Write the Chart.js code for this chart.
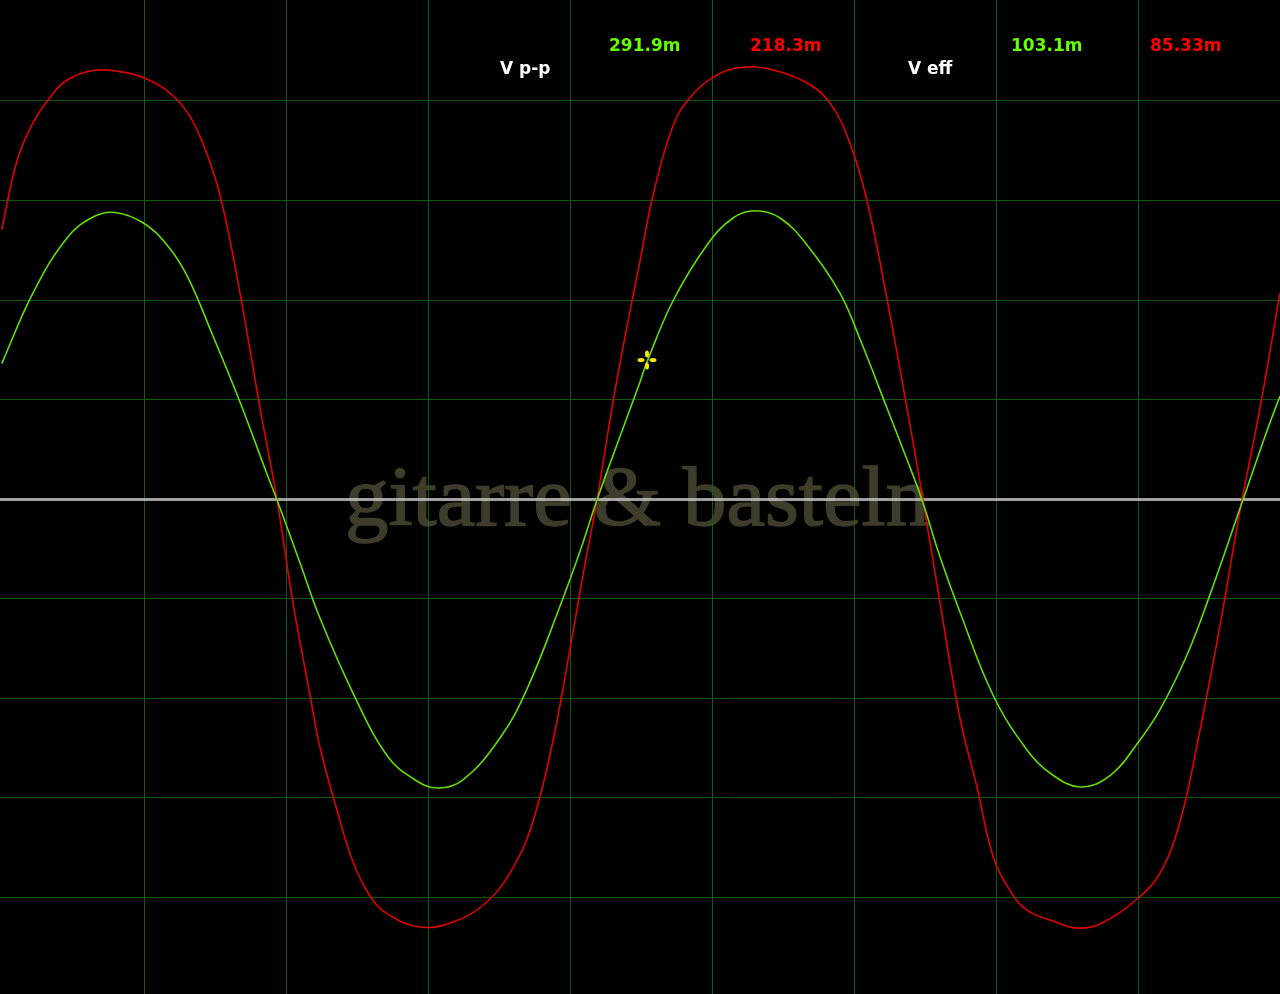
<!DOCTYPE html>
<html>
<head>
<meta charset="utf-8">
<script src="https://cdn.jsdelivr.net/npm/chart.js@4"></script>
<style>
  html, body { margin: 0; padding: 0; background: #000; }
  #wrap { width: 1280px; height: 994px; position: relative; }
</style>
</head>
<body>
<div id="wrap"><canvas id="scope"></canvas></div>
<script>
const xTicks = [0, 1, 2, 3, 4, 5, 6, 7];
const yTicks = [-4, -3, -2, -1, 0, 1, 2, 3, 4];

const greenT = [-1.002, -0.782, -0.542, -0.359, -0.204, -0.007, 0.162, 0.303, 0.486, 0.676, 0.866, 0.937,
  1.099, 1.239, 1.472, 1.711, 1.894, 2.063, 2.246, 2.507, 2.697, 2.930, 3.070, 3.190, 3.352, 3.493, 3.542,
  3.725, 3.965, 4.148, 4.303, 4.479, 4.669, 4.901, 5.042, 5.232, 5.373, 5.479, 5.606, 5.746, 5.979, 6.218,
  6.380, 6.592, 6.803, 6.993, 7.155, 7.345, 7.507, 7.739, 7.908, 8.000];
const greenV = [1.361, 2.070, 2.623, 2.834, 2.880, 2.776, 2.553, 2.245, 1.638, 0.975, 0.251, -0.010,
  -0.643, -1.196, -1.950, -2.578, -2.809, -2.905, -2.824, -2.402, -1.910, -1.075, -0.528, -0.010, 0.628, 1.176, 1.377,
  1.990, 2.553, 2.824, 2.897, 2.824, 2.553, 2.070, 1.608, 0.915, 0.397, -0.010, -0.583, -1.136, -1.970, -2.523,
  -2.754, -2.894, -2.780, -2.462, -2.116, -1.568, -0.961, -0.010, 0.683, 1.035];

const redT = [-1.002, -0.894, -0.782, -0.662, -0.542, -0.359, -0.169, -0.007, 0.162, 0.303, 0.415, 0.535,
  0.676, 0.817, 0.937, 1.049, 1.169, 1.239, 1.359, 1.472, 1.592, 1.711, 1.944, 2.176, 2.415, 2.599, 2.739,
  2.880, 3.000, 3.092, 3.190, 3.303, 3.401, 3.493, 3.585, 3.725, 3.845, 4.007, 4.197, 4.430, 4.669, 4.831,
  4.972, 5.092, 5.232, 5.373, 5.479, 5.606, 5.746, 5.866, 5.979, 6.099, 6.218, 6.401, 6.570, 6.732, 6.993,
  7.155, 7.296, 7.437, 7.577, 7.718, 7.859, 8.000];
const redV = [2.707, 3.400, 3.779, 4.035, 4.211, 4.307, 4.295, 4.237, 4.105, 3.891, 3.574, 3.055,
  2.070, 0.915, -0.010, -1.045, -1.970, -2.492, -3.126, -3.648, -3.990, -4.167, -4.302, -4.251, -4.050, -3.705, -3.242,
  -2.432, -1.508, -0.759, -0.010, 0.975, 1.729, 2.392, 3.055, 3.749, 4.035, 4.237, 4.336, 4.312, 4.181, 3.980,
  3.574, 2.995, 2.014, 0.915, 0.050, -1.045, -2.201, -2.894, -3.588, -3.936, -4.131, -4.241, -4.312, -4.271, -4.020,
  -3.759, -3.242, -2.319, -1.276, -0.121, 0.915, 2.070];

const cursorPos = [3.542, 1.397];

// readouts: [text, colour, x, y]
const readouts = [
  ['V p-p', '#ffffff', 500, 70],
  ['291.9m', '#66ff00', 609, 47],
  ['218.3m', '#ff0000', 750, 47],
  ['V eff', '#ffffff', 908, 70],
  ['103.1m', '#66ff00', 1011, 47],
  ['85.33m', '#ff0000', 1150, 47]
];

const toPoints = (t, v) => t.map((x, i) => ({ x, y: v[i] }));

// yellow four-petal cursor marker
function makeCursor() {
  const c = document.createElement('canvas');
  c.width = 20; c.height = 20;
  const g = c.getContext('2d');
  g.fillStyle = '#ffe600';
  [[10, 4, 2, 3.5], [10, 16, 2, 3.5], [4, 10, 3.5, 2], [16, 10, 3.5, 2]].forEach(([x, y, rx, ry]) => {
    g.beginPath(); g.ellipse(x, y, rx, ry, 0, 0, Math.PI * 2); g.fill();
  });
  return c;
}

// watermark sits under the grid
const watermark = {
  id: 'watermark',
  beforeDraw(chart) {
    const { ctx } = chart;
    ctx.save();
    ctx.fillStyle = '#000';
    ctx.fillRect(0, 0, chart.width, chart.height);
    ctx.translate(345, 525);
    ctx.scale(1.035, 1);
    ctx.font = '84px "Liberation Serif", "DejaVu Serif", serif';
    ctx.fillStyle = '#3e3c2a';
    ctx.strokeStyle = '#3e3c2a';
    ctx.lineWidth = 1.5;
    ctx.textBaseline = 'alphabetic';
    ctx.fillText('gitarre & basteln', 0, 0);
    ctx.strokeText('gitarre & basteln', 0, 0);
    ctx.restore();
  }
};

const readoutText = {
  id: 'readoutText',
  afterDatasetsDraw(chart) {
    const { ctx } = chart;
    ctx.save();
    ctx.font = 'bold 17px "DejaVu Sans", Verdana, sans-serif';
    ctx.textBaseline = 'middle';
    readouts.forEach(([txt, col, x, y]) => {
      ctx.fillStyle = col;
      ctx.fillText(txt, x, y);
    });
    ctx.restore();
  }
};

const gridColor = c => c.tick && c.tick.value === 0 ? 'rgba(200,200,200,0.8)' : 'rgba(20,110,20,0.8)';
const gridWidth = c => c.tick && c.tick.value === 0 ? 3 : 1;

new Chart(document.getElementById('scope'), {
  type: 'line',
  data: {
    datasets: [
      {
        data: toPoints(greenT, greenV), borderColor: '#66dd00', borderWidth: 1.6,
        pointRadius: 0, tension: 0.4, order: 2
      },
      {
        data: toPoints(redT, redV), borderColor: '#e00000', borderWidth: 1.6,
        pointRadius: 0, tension: 0.4, order: 3
      },
      {
        data: [{ x: cursorPos[0], y: cursorPos[1] }], showLine: false,
        pointStyle: makeCursor(), pointRadius: 10, order: 1
      }
    ]
  },
  options: {
    responsive: true,
    maintainAspectRatio: false,
    animation: false,
    layout: { padding: 0, autoPadding: false },
    plugins: { legend: { display: false }, tooltip: { enabled: false } },
    scales: {
      x: {
        type: 'linear', min: -144 / 142, max: 1136 / 142,
        afterBuildTicks: s => { s.ticks = xTicks.map(value => ({ value })); },
        ticks: { display: false },
        grid: { color: 'rgba(20,110,20,0.8)', drawTicks: false },
        border: { display: false }
      },
      y: {
        type: 'linear', min: -495 / 99.5, max: 499 / 99.5,
        afterBuildTicks: s => { s.ticks = yTicks.map(value => ({ value })); },
        ticks: { display: false },
        grid: { color: gridColor, lineWidth: gridWidth, drawTicks: false },
        border: { display: false }
      }
    }
  },
  plugins: [watermark, readoutText]
});
</script>
</body>
</html>
